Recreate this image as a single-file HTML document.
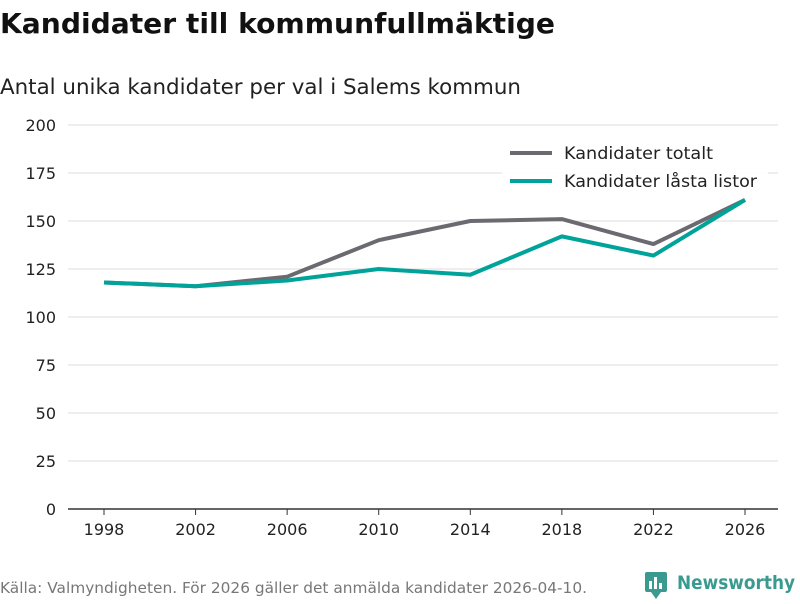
<!DOCTYPE html>
<html><head><meta charset="utf-8">
<style>
body{margin:0;background:#fff;width:800px;height:600px;overflow:hidden;font-family:"DejaVu Sans","Liberation Sans",sans-serif;}
svg text{font-family:"DejaVu Sans","Liberation Sans",sans-serif;}
</style></head>
<body>
<svg id="chart" width="800" height="600">
<text x="0" y="33" font-size="28" font-weight="bold" fill="#111" textLength="555" lengthAdjust="spacingAndGlyphs">Kandidater till kommunfullmäktige</text>
<text x="0" y="94" font-size="21" fill="#222" textLength="521" lengthAdjust="spacingAndGlyphs">Antal unika kandidater per val i Salems kommun</text>
<g id="grid"></g><g id="lines"></g>
<g>
<rect x="502" y="140" width="266" height="58" fill="#fff" opacity="0.9"/>
<line x1="510" y1="153" x2="552" y2="153" stroke="#6b6a70" stroke-width="4"/>
<text x="564" y="159" font-size="17" fill="#222" textLength="149" lengthAdjust="spacingAndGlyphs">Kandidater totalt</text>
<line x1="510" y1="181" x2="552" y2="181" stroke="#00a39a" stroke-width="4"/>
<text x="564" y="187" font-size="17" fill="#222" textLength="193" lengthAdjust="spacingAndGlyphs">Kandidater låsta listor</text>
</g>
<text x="0" y="593" font-size="15" fill="#777" textLength="587" lengthAdjust="spacingAndGlyphs">Källa: Valmyndigheten. För 2026 gäller det anmälda kandidater 2026-04-10.</text>
<g>
<rect x="645" y="572" width="22" height="20" rx="2" fill="#3a9a8f"/>
<polygon points="651,592 661,592 656,599" fill="#3a9a8f"/>
<rect x="649" y="581" width="3" height="8" fill="#fff"/><rect x="654" y="577" width="3" height="12" fill="#fff"/><rect x="659" y="583" width="3" height="6" fill="#fff"/>
<text x="677" y="589" font-size="19" font-weight="bold" fill="#3a9a8f" textLength="118" lengthAdjust="spacingAndGlyphs">Newsworthy</text>
</g>
</svg>
<script>
const years=[1998,2002,2006,2010,2014,2018,2022,2026];
const totalt=[118,116,121,140,150,151,138,161];
const lasta=[118,116,119,125,122,142,132,161];
const yTicks=[0,25,50,75,100,125,150,175,200];
const NS="http://www.w3.org/2000/svg";
const x=i=>104+i*(745-104)/(years.length-1);
const y=v=>509-v*(509-125)/200;
const grid=document.getElementById('grid');
yTicks.forEach(t=>{
 if(t>0){const l=document.createElementNS(NS,'line');
 l.setAttribute('x1',68);l.setAttribute('x2',778);l.setAttribute('y1',y(t));l.setAttribute('y2',y(t));
 l.setAttribute('stroke','#ddd');l.setAttribute('stroke-width',1);
 
 
 grid.appendChild(l);}
 const tx=document.createElementNS(NS,'text');
 tx.setAttribute('x',56);tx.setAttribute('y',y(t)+6);tx.setAttribute('text-anchor','end');
 tx.setAttribute('font-size',16);tx.setAttribute('fill','#222');tx.textContent=t;
 
 
 grid.appendChild(tx);
});
const ax=document.createElementNS(NS,'line');
ax.setAttribute('x1',68);ax.setAttribute('x2',778);ax.setAttribute('y1',509);ax.setAttribute('y2',509);
ax.setAttribute('stroke','#333');ax.setAttribute('stroke-width',1.5);


grid.appendChild(ax);
years.forEach((yr,i)=>{
 const tk=document.createElementNS(NS,'line');
 tk.setAttribute('x1',x(i));tk.setAttribute('x2',x(i));tk.setAttribute('y1',509);tk.setAttribute('y2',515);
 tk.setAttribute('stroke','#333');
 
 
 grid.appendChild(tk);
 const tx=document.createElementNS(NS,'text');
 tx.setAttribute('x',x(i));tx.setAttribute('y',535);tx.setAttribute('text-anchor','middle');
 tx.setAttribute('font-size',16);tx.setAttribute('fill','#222');tx.textContent=yr;
 
 
 grid.appendChild(tx);
});
const lines=document.getElementById('lines');
function draw(data,color,name){
 const p=document.createElementNS(NS,'polyline');
 p.setAttribute('points',data.map((v,i)=>x(i)+','+y(v)).join(' '));
 p.setAttribute('fill','none');p.setAttribute('stroke',color);p.setAttribute('stroke-width',4);
 p.setAttribute('stroke-linejoin','round');
 
 
 lines.appendChild(p);
}
draw(totalt,'#6b6a70','line-kandidater-totalt');
draw(lasta,'#00a39a','line-kandidater-lasta-listor');
</script>
</body></html>
